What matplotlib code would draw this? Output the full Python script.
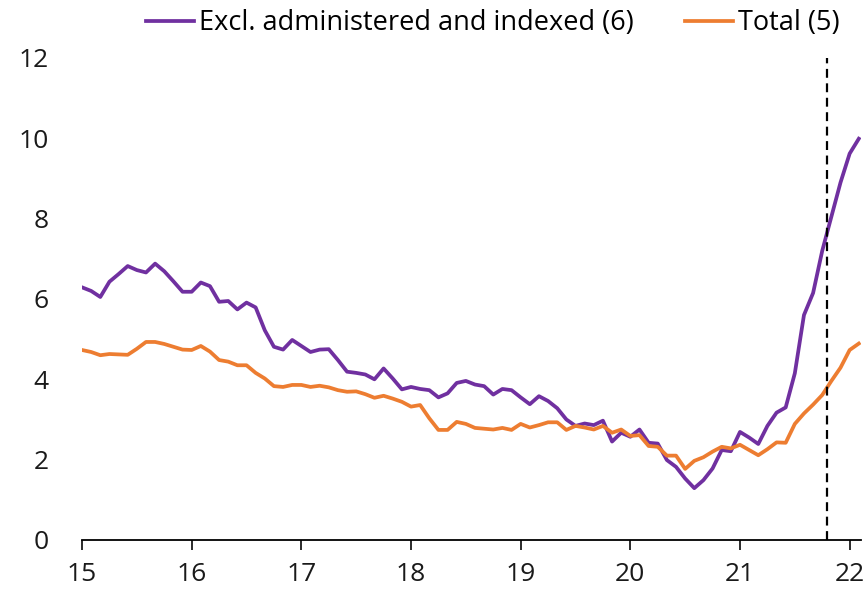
import numpy as np
import matplotlib.pyplot as plt

plt.rcParams['font.family'] = ['Open Sans', 'DejaVu Sans']

# monthly, Jan 2015 - Feb 2022
excl = [6.29, 6.20, 6.05, 6.43, 6.62, 6.82, 6.72, 6.66, 6.88, 6.69, 6.44, 6.18,
        6.18, 6.41, 6.32, 5.93, 5.95, 5.74, 5.91, 5.79, 5.22, 4.81, 4.74, 4.98,
        4.83, 4.68, 4.74, 4.75, 4.48, 4.19, 4.16, 4.12, 4.00, 4.27, 4.02, 3.75,
        3.81, 3.76, 3.73, 3.55, 3.65, 3.91, 3.96, 3.87, 3.83, 3.62, 3.76, 3.73,
        3.55, 3.38, 3.58, 3.46, 3.28, 3.00, 2.84, 2.90, 2.86, 2.97, 2.45, 2.67,
        2.57, 2.75, 2.42, 2.40, 1.99, 1.82, 1.53, 1.29, 1.49, 1.78, 2.24, 2.21,
        2.69, 2.55, 2.39, 2.84, 3.17, 3.30, 4.15, 5.60, 6.15, 7.20, 8.05, 8.90,
        9.62, 9.99]
total = [4.73, 4.68, 4.60, 4.63, 4.62, 4.61, 4.76, 4.93, 4.93, 4.88, 4.81, 4.74,
         4.73, 4.83, 4.69, 4.48, 4.44, 4.35, 4.35, 4.16, 4.02, 3.83, 3.81, 3.86,
         3.86, 3.81, 3.84, 3.80, 3.73, 3.69, 3.70, 3.63, 3.54, 3.59, 3.52, 3.44,
         3.32, 3.36, 3.03, 2.74, 2.74, 2.94, 2.89, 2.79, 2.77, 2.75, 2.79, 2.74,
         2.89, 2.80, 2.86, 2.93, 2.93, 2.74, 2.84, 2.80, 2.75, 2.84, 2.67, 2.75,
         2.59, 2.61, 2.34, 2.32, 2.10, 2.10, 1.77, 1.97, 2.06, 2.20, 2.32, 2.28,
         2.37, 2.24, 2.11, 2.26, 2.43, 2.42, 2.89, 3.15, 3.37, 3.61, 3.96, 4.29,
         4.73, 4.89]
labels = ['Excl. administered and indexed (6)', 'Total (5)']
year_ticks = [15, 16, 17, 18, 19, 20, 21, 22]
y_ticks = [0, 2, 4, 6, 8, 10, 12]
cutoff = 21.79  # vertical marker

years = 15 + np.arange(len(excl)) / 12

fig = plt.figure(figsize=(8.68, 5.96), dpi=100)
ax = fig.add_axes([0.0945, 0.094, 0.897, 0.8087])

ax.plot(years, excl, color='#7030A0', lw=2.7, label=labels[0])
ax.plot(years, total, color='#ED7D31', lw=2.7, label=labels[1])
ax.axvline(cutoff, color='black', lw=1.6, ls=(0, (4, 2.5)), ymin=0, ymax=1)

ax.set_xlim(15, 22.1)
ax.set_ylim(0, 12)
ax.set_xticks(year_ticks)
ax.set_yticks(y_ticks)
ax.tick_params(axis='x', direction='out', length=7, width=1.3, pad=9,
               labelsize=19, colors='#1a1a1a')
ax.tick_params(axis='y', length=0, pad=24, labelsize=19, colors='#1a1a1a')

for s in ['top', 'right', 'left']:
    ax.spines[s].set_visible(False)
ax.spines['bottom'].set_linewidth(1.3)

fig.legend(loc='center', bbox_to_anchor=(0.568, 0.961), ncol=2, frameon=False,
           fontsize=19.5, handlelength=1.75, handletextpad=0.2, columnspacing=1.9,
           borderpad=0)

fig.savefig('out.png', dpi=100)
